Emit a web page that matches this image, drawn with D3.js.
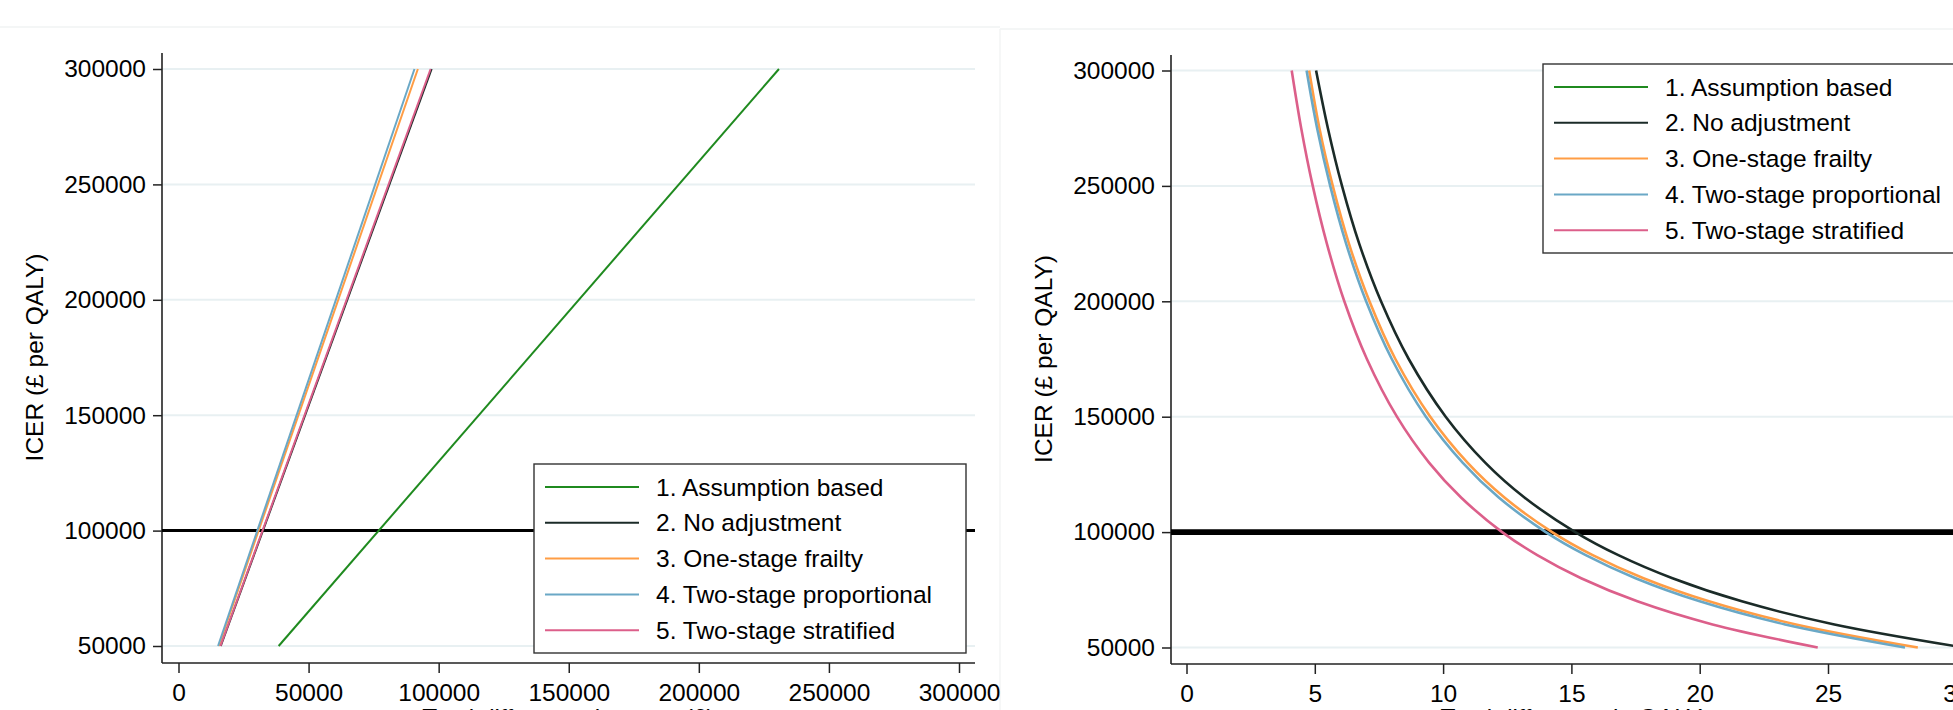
<!DOCTYPE html>
<html>
<head>
<meta charset="utf-8">
<script src="https://cdn.jsdelivr.net/npm/d3@7"></script>
<style>
  body { margin: 0; background: #fff; }
  text { font-family: "Liberation Sans", Arial, sans-serif; fill: #000; }
</style>
</head>
<body>
<svg id="chart" width="1953" height="710"></svg>
<script>
// series labels, shared by both panels
const seriesNames = [
  "1. Assumption based",
  "2. No adjustment",
  "3. One-stage frailty",
  "4. Two-stage proportional",
  "5. Two-stage stratified"
];

const icerTicks = [50000, 100000, 150000, 200000, 250000, 300000];
const costTicks = [0, 50000, 100000, 150000, 200000, 250000, 300000];
const qalyTicks = [0, 5, 10, 15, 20, 25, 30];
const threshold = 100000;

// left panel: cost difference at the two ends of each line
const costIcer = [50000, 300000];
const costAssumption = [38500, 230800];
const costNoAdj = [16250, 97300];
const costFrailty = [15500, 92000];
const costProportional = [15200, 90700];
const costStratified = [16150, 96900];

// right panel: QALY difference
const qalyIcer = [50000, 60000, 70000, 80000, 90000, 100000, 115000, 130000, 150000, 175000, 200000, 225000, 250000, 275000, 300000];
const qalyNoAdj = [30.3, 25.25, 21.64, 18.94, 16.83, 15.15, 13.17, 11.65, 10.1, 8.66, 7.58, 6.73, 6.06, 5.51, 5.05];
const qalyFrailty = [28.5, 23.75, 20.36, 17.81, 15.83, 14.25, 12.39, 10.96, 9.5, 8.14, 7.13, 6.33, 5.7, 5.18, 4.78];
const qalyProportional = [28.0, 23.33, 20.0, 17.5, 15.56, 14.0, 12.17, 10.77, 9.33, 8.0, 7.0, 6.22, 5.6, 5.09, 4.68];
const qalyStratified = [24.6, 20.5, 17.57, 15.38, 13.67, 12.3, 10.7, 9.46, 8.2, 7.03, 6.15, 5.47, 4.92, 4.47, 4.1];

const colors = ["#1f8a1f", "#1b2b28", "#ff9d45", "#6aa8c6", "#dc5f8a"];
const font = 24.5;

const svg = d3.select("#chart");

// faint frame lines of the two exported images
svg.append("line").attr("x1", 0).attr("x2", 1000).attr("y1", 27).attr("y2", 27)
  .attr("stroke", "#f1f3f3").attr("stroke-width", 1.5);
svg.append("line").attr("x1", 1000).attr("x2", 1953).attr("y1", 29).attr("y2", 29)
  .attr("stroke", "#f1f3f3").attr("stroke-width", 1.5);
svg.append("line").attr("x1", 1000).attr("x2", 1000).attr("y1", 29).attr("y2", 710)
  .attr("stroke", "#f3f5f5").attr("stroke-width", 1.5);

function panel(cfg) {
  const g = svg.append("g");
  const x = d3.scaleLinear().domain(cfg.xDomain).range(cfg.xRange);
  const y = d3.scaleLinear().domain([50000, 300000]).range(cfg.yRange);
  const box = cfg.box;

  // gridlines
  g.selectAll("line.grid").data(icerTicks).enter().append("line")
    .attr("x1", box.left).attr("x2", box.right)
    .attr("y1", d => y(d)).attr("y2", d => y(d))
    .attr("stroke", "#e8f0f2").attr("stroke-width", 2);

  // y axis
  const ya = g.append("g").attr("transform", `translate(${box.left},0)`)
    .call(d3.axisLeft(y).tickValues(icerTicks).tickSize(9).tickPadding(7).tickFormat(d3.format("d")));
  ya.select(".domain").remove();
  ya.selectAll(".tick line").attr("stroke", "#222").attr("stroke-width", 1.5);
  ya.selectAll(".tick text").style("font-size", font + "px").attr("fill", "#000")
    .style("font-family", "Liberation Sans, Arial, sans-serif");

  // x axis
  const xa = g.append("g").attr("transform", `translate(0,${box.bottom})`)
    .call(d3.axisBottom(x).tickValues(cfg.xTicks).tickSize(10).tickPadding(11).tickFormat(d3.format("d")));
  xa.select(".domain").remove();
  xa.selectAll(".tick line").attr("stroke", "#222").attr("stroke-width", 1.5);
  xa.selectAll(".tick text").style("font-size", font + "px").attr("fill", "#000")
    .style("font-family", "Liberation Sans, Arial, sans-serif");

  // axis lines
  g.append("line").attr("x1", box.left).attr("x2", box.left).attr("y1", box.top).attr("y2", box.bottom)
    .attr("stroke", "#222").attr("stroke-width", 1.6);
  g.append("line").attr("x1", box.left).attr("x2", box.right).attr("y1", box.bottom).attr("y2", box.bottom)
    .attr("stroke", "#222").attr("stroke-width", 1.6);

  // titles
  g.append("text")
    .attr("transform", `translate(${box.left - 119},${(y(50000) + y(300000)) / 2}) rotate(-90)`)
    .attr("text-anchor", "middle").style("font-size", font + "px")
    .text("ICER (£ per QALY)");
  g.append("text")
    .attr("x", (box.left + box.right) / 2).attr("y", 726)
    .attr("text-anchor", "middle").style("font-size", font + "px")
    .text(cfg.xTitle);

  // threshold line
  g.append("line").attr("x1", box.left).attr("x2", box.right)
    .attr("y1", y(threshold)).attr("y2", y(threshold))
    .attr("stroke", "#000").attr("stroke-width", cfg.refWidth);

  // series
  const line = d3.line().x(d => x(d[0])).y(d => y(d[1])).curve(cfg.curve);
  cfg.series.forEach((vals, i) => {
    if (!vals) return;
    const pts = vals.map((v, j) => [v, cfg.icer[j]]);
    g.append("path").attr("d", line(pts))
      .attr("fill", "none").attr("stroke", colors[i])
      .attr("stroke-width", cfg.lineWidth);
  });

  // legend
  const lg = cfg.legend;
  g.append("rect").attr("x", lg.left).attr("y", lg.top)
    .attr("width", lg.width).attr("height", lg.height)
    .attr("fill", "#fff").attr("stroke", "#333").attr("stroke-width", 1.4);
  seriesNames.forEach((name, i) => {
    const cy = lg.top + 23 + i * 35.8;
    g.append("line").attr("x1", lg.left + 11).attr("x2", lg.left + 105)
      .attr("y1", cy).attr("y2", cy)
      .attr("stroke", colors[i]).attr("stroke-width", 2);
    g.append("text").attr("x", lg.left + 122).attr("y", cy + 8.5)
      .style("font-size", font + "px").text(name);
  });
}

panel({
  xDomain: [0, 300000], xRange: [178.5, 959], xTicks: costTicks,
  yRange: [646, 69],
  box: { left: 162, right: 975, top: 53, bottom: 663 },
  xTitle: "Total difference in costs (£)",
  icer: costIcer,
  series: [costAssumption, costNoAdj, costFrailty, costProportional, costStratified],
  curve: d3.curveLinear, lineWidth: 2, refWidth: 3,
  legend: { left: 534, top: 464, width: 432, height: 189 }
});

panel({
  xDomain: [0, 30], xRange: [1186.5, 1956.3], xTicks: qalyTicks,
  yRange: [647.5, 70.5],
  box: { left: 1171, right: 1984, top: 55, bottom: 664 },
  xTitle: "Total difference in QALYs",
  icer: qalyIcer,
  series: [null, qalyNoAdj, qalyFrailty, qalyProportional, qalyStratified],
  curve: d3.curveCatmullRom.alpha(0.5), lineWidth: 2.6, refWidth: 5.8,
  legend: { left: 1543, top: 64, width: 431, height: 189 }
});
</script>
</body>
</html>
